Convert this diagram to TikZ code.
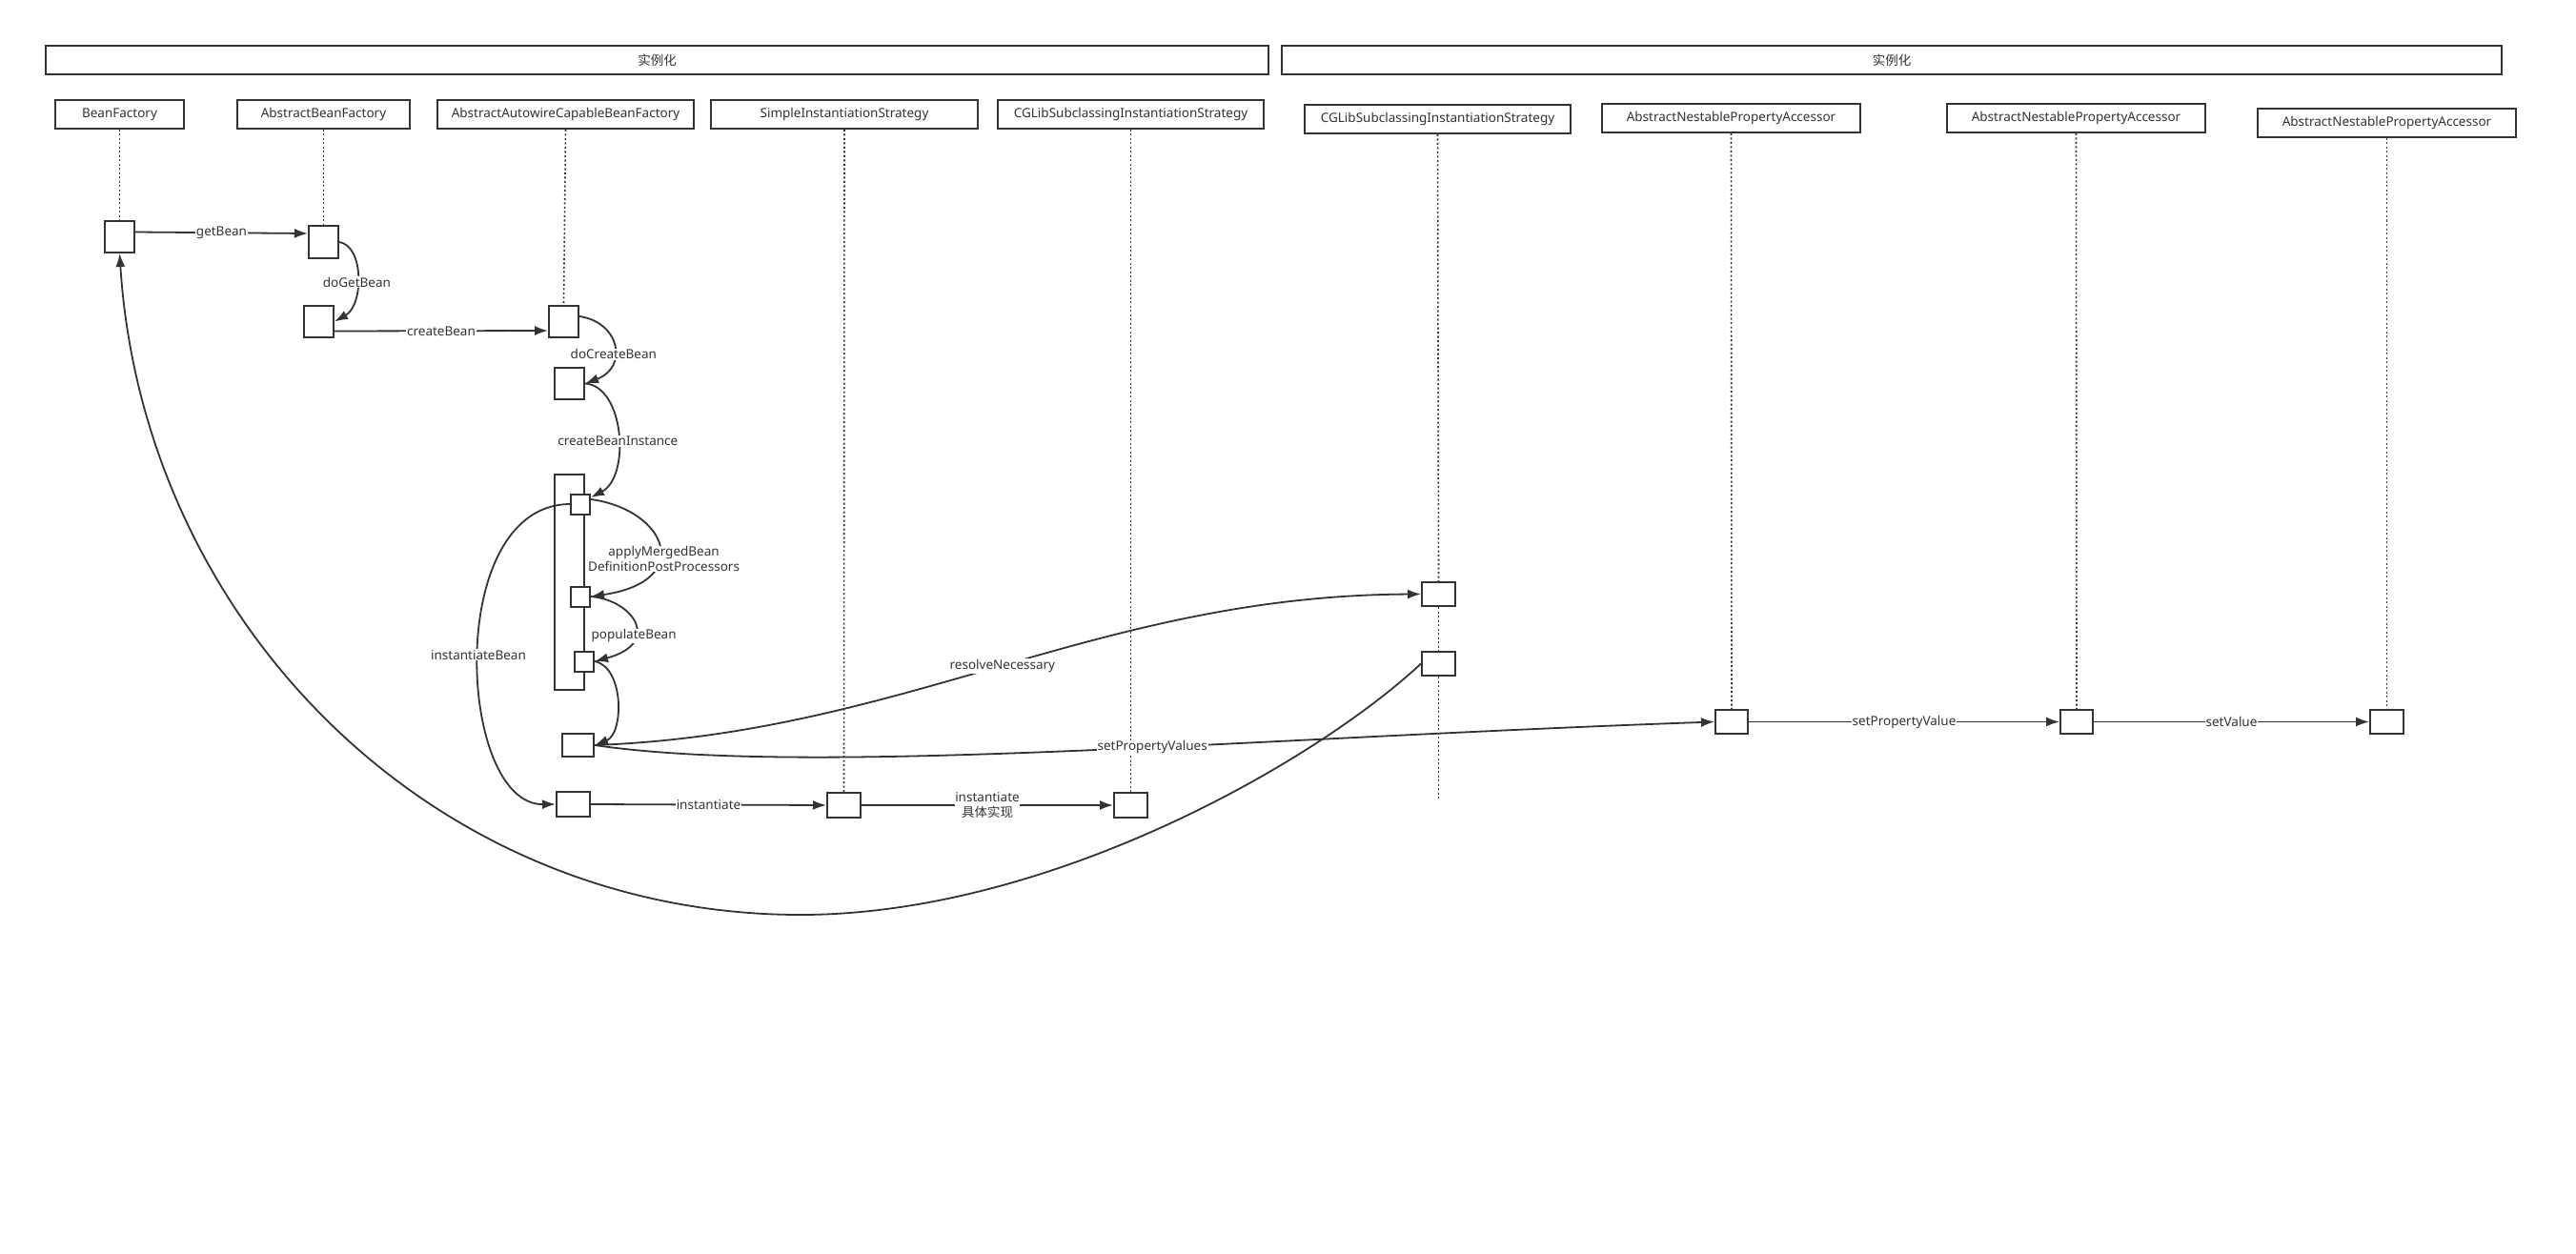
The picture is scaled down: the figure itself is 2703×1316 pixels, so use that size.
\documentclass[tikz,border=0pt]{standalone}
\usepackage{fontspec}
\setmainfont{Noto Sans}
\newfontfamily\cjk{Noto Sans CJK SC}
\usetikzlibrary{arrows.meta,calc}
\definecolor{ink}{HTML}{333333}
\tikzset{
  hdr/.style={draw=ink, line width=2pt, minimum height=30pt, inner sep=0pt, font=\cjk\fontsize{13.5}{16}\selectfont, text=ink},
  part/.style={draw=ink, line width=2pt, fill=white, minimum height=30pt, inner sep=0pt, font=\fontsize{13.5}{16}\selectfont, text=ink},
  act/.style={draw=ink, line width=2pt, fill=white, inner sep=0pt},
  life/.style={draw=ink, line width=1.6pt, dash pattern=on 2pt off 2.5pt},
  conn/.style={draw=ink, line width=1.8pt},
  arr/.style={conn, -{Latex[length=14pt,width=10pt]}},
  lbl/.style={fill=white, inner sep=1pt, font=\fontsize{13.5}{16}\selectfont, text=ink, align=center},
}
\begin{document}
\begin{tikzpicture}[x=1pt,y=-1pt]
\path[use as bounding box, fill=white] (0,0) rectangle (2703,1316);

% headers
\node[hdr, minimum width=1283pt] (H1) at (689.5,63) {实例化};
\node[hdr, minimum width=1280pt] (H2) at (1985,63) {实例化};

% participants
\node[part, minimum width=135pt] (P1) at (125.5,120) {BeanFactory};
\node[part, minimum width=181pt] (P2) at (339.5,120) {AbstractBeanFactory};
\node[part, minimum width=269pt] (P3) at (593.5,120) {AbstractAutowireCapableBeanFactory};
\node[part, minimum width=280pt] (P4) at (886,120) {SimpleInstantiationStrategy};
\node[part, minimum width=279pt] (P5) at (1186.5,120) {CGLibSubclassingInstantiationStrategy};
\node[part, minimum width=279pt] (P6) at (1508.5,125) {CGLibSubclassingInstantiationStrategy};
\node[part, minimum width=271pt] (P7) at (1816.5,124) {AbstractNestablePropertyAccessor};
\node[part, minimum width=271pt] (P8) at (2178.5,124) {AbstractNestablePropertyAccessor};
\node[part, minimum width=271pt] (P9) at (2504.5,129) {AbstractNestablePropertyAccessor};

% activations
\node[act, minimum width=31pt, minimum height=33pt] (A1) at (125.5,248.5) {};
\node[act, minimum width=31pt, minimum height=34pt] (B1) at (339.5,254) {};
\node[act, minimum width=31pt, minimum height=33pt] (B2) at (334.5,337.5) {};
\node[act, minimum width=31pt, minimum height=33pt] (C1) at (591.5,337) {};
\node[act, minimum width=31pt, minimum height=33pt] (C2) at (597.5,402.5) {};
\node[act, minimum width=31pt, minimum height=226pt] (T) at (597.5,611) {};
\node[act, minimum width=20pt, minimum height=21pt] (D1) at (609,529) {};
\node[act, minimum width=20pt, minimum height=21pt] (D2) at (609,626) {};
\node[act, minimum width=20pt, minimum height=21pt] (D3) at (613,694) {};
\node[act, minimum width=33pt, minimum height=24pt] (E) at (606.5,782) {};
\node[act, minimum width=35pt, minimum height=26pt] (F) at (601.5,844) {};
\node[act, minimum width=35pt, minimum height=26pt] (G) at (885.5,845) {};
\node[act, minimum width=35pt, minimum height=26pt] (Hh) at (1186.5,845) {};
\node[act, minimum width=35pt, minimum height=25pt] (I1) at (1509.5,623.5) {};
\node[act, minimum width=35pt, minimum height=25pt] (I2) at (1509.5,696.5) {};
\node[act, minimum width=34pt, minimum height=25pt] (J1) at (1817,757.5) {};
\node[act, minimum width=34pt, minimum height=25pt] (J2) at (2179,757.5) {};
\node[act, minimum width=35pt, minimum height=25pt] (J3) at (2504.5,757.5) {};
\coordinate (CGend) at (1509.5,838);
\coordinate (bot) at (840,960);

% lifelines
\draw[life] (P1.south) -- (A1.north);
\draw[life] (P2.south) -- (B1.north);
\draw[life] (P3.south) -- (C1.north);
\draw[life] (P4.south) -- (G.north);
\draw[life] (P5.south) -- (Hh.north);
\draw[life] (P6.south) -- (I1.north);
\draw[life] (I1.south) -- (I2.north);
\draw[life] (I2.south) -- (CGend);
\draw[life] (P7.south) -- (J1.north);
\draw[life] (P8.south) -- (J2.north);
\draw[life] (P9.south) -- (J3.north);

% messages
\draw[arr] ([yshift=5pt]A1.east) -- node[lbl] {getBean} ([yshift=9pt]B1.west);
\draw[arr] (B1.east) .. controls (382,258) and (382,320) .. node[lbl, pos=0.55] {doGetBean} (B2.east);
\draw[arr] ([yshift=-10pt]B2.east) -- node[lbl] {createBean} ([yshift=-10pt]C1.west);
\draw[arr] ([yshift=5pt]C1.east) .. controls (650,338) and (660,385) .. node[lbl, pos=0.6] {doCreateBean} (C2.east);
\draw[arr] (C2.east) .. controls (655,405) and (662,500) .. node[lbl, pos=0.55] {createBeanInstance} ([yshift=7pt]D1.east);
\draw[arr] ([yshift=5pt]D1.east) .. controls (700,535) and (730,610) .. node[lbl, pos=0.6, inner sep=0pt, xshift=6pt] {applyMergedBean\\DefinitionPostProcessors} (D2.east);
\draw[arr] (D2.east) .. controls (665,630) and (695,675) .. node[lbl, pos=0.65] {populateBean} (D3.east);
\draw[arr] (D3.east) .. controls (655,700) and (655,770) .. (E.east);
\draw[arr] (D1.west) .. controls (465,530) and (480,845) .. node[lbl, pos=0.5] {instantiateBean} (F.west);
\draw[arr] (F.east) -- node[lbl] {instantiate} (G.west);
\draw[arr] (G.east) -- node[lbl, inner sep=0pt] {instantiate\\{\cjk 具体实现}} (Hh.west);
\draw[arr] (E.east) .. controls (950,770) and (1150,625) .. node[lbl, pos=0.5] {resolveNecessary} (I1.west);
\draw[arr] (E.east) .. controls (850,815) and (1300,775) .. node[lbl, pos=0.58] {setPropertyValues} (J1.west);
\draw[arr] (J1.east) -- node[lbl] {setPropertyValue} (J2.west);
\draw[arr] (J2.east) -- node[lbl] {setValue} (J3.west);
\draw[arr] (I2.west) .. controls (1380,800) and (1100,960) .. (bot) .. controls (450,960) and (150,650) .. (A1.south);
\end{tikzpicture}
\end{document}
